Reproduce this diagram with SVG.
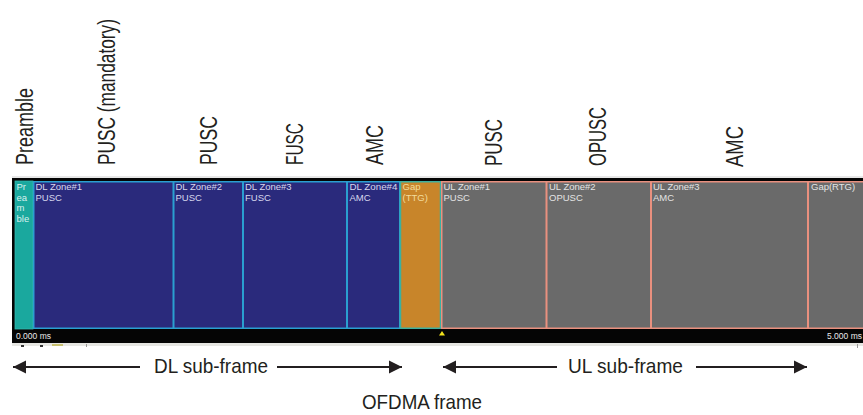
<svg xmlns="http://www.w3.org/2000/svg" width="863" height="415" viewBox="0 0 863 415">
<style>
.lbl{font-family:"Liberation Sans",Arial,sans-serif;font-size:23px;fill:#231f20}
.cap{font-family:"Liberation Sans",Arial,sans-serif;font-size:21px;fill:#231f20}
.zt{font-family:"Liberation Sans",Arial,sans-serif;font-size:9.5px}
.dl{fill:#2a2a7c;stroke:#2a9fd0;stroke-width:1.5}
.ul{fill:#6a6a6a;stroke:#e9907f;stroke-width:1.5}
.dlt{fill:#d8d8ee}
.ult{fill:#e4e4e4}
.tick{font-family:"Liberation Sans",Arial,sans-serif;font-size:8.5px;fill:#e8e8e8}
.arr{stroke:#231f20;stroke-width:1.8;fill:none}
</style>
<defs>
<marker id="ah" markerUnits="userSpaceOnUse" markerWidth="14" markerHeight="14" refX="13" refY="7" orient="auto">
<path d="M0,0.5 L13,7 L0,13.5 Z" fill="#231f20"/>
</marker>
</defs>
<rect width="863" height="415" fill="#ffffff"/>
<g id="top-labels">
<text class="lbl" transform="translate(33,165) rotate(-90)" textLength="77" lengthAdjust="spacingAndGlyphs">Preamble</text>
<text class="lbl" transform="translate(115,165) rotate(-90)" textLength="146" lengthAdjust="spacingAndGlyphs">PUSC (mandatory)</text>
<text class="lbl" transform="translate(217,165) rotate(-90)" textLength="49" lengthAdjust="spacingAndGlyphs">PUSC</text>
<text class="lbl" transform="translate(303,165) rotate(-90)" textLength="42" lengthAdjust="spacingAndGlyphs">FUSC</text>
<text class="lbl" transform="translate(383,165) rotate(-90)" textLength="40" lengthAdjust="spacingAndGlyphs">AMC</text>
<text class="lbl" transform="translate(502,166) rotate(-90)" textLength="47" lengthAdjust="spacingAndGlyphs">PUSC</text>
<text class="lbl" transform="translate(606,166) rotate(-90)" textLength="59" lengthAdjust="spacingAndGlyphs">OPUSC</text>
<text class="lbl" transform="translate(743,167) rotate(-90)" textLength="41" lengthAdjust="spacingAndGlyphs">AMC</text>
</g>
<g id="frame">
<line x1="12" y1="177" x2="863" y2="177" stroke="#d0d0d0" stroke-width="1"/>
<rect x="12" y="178" width="851" height="165" fill="#050505"/>
<rect x="12" y="343" width="851" height="3" fill="#e6e6e2"/>
<rect x="21" y="345" width="3" height="2" fill="#333"/>
<rect x="40" y="345" width="3" height="2" fill="#333"/>
<rect x="52" y="344" width="11" height="2" fill="#c8c070"/>
<rect x="86" y="344" width="1" height="3" fill="#999"/>
<rect x="857" y="344" width="1" height="4" fill="#999"/>
<text class="tick" x="16" y="338.5">0.000 ms</text>
<text class="tick" x="827" y="338.5">5.000 ms</text>
<polygon points="442,331 439,335.5 445,335.5" fill="#f2e21c"/>
</g>
<g id="preamble">
<rect x="15" y="181" width="18" height="148" fill="#1aa89e" stroke="#35b8b0" stroke-width="0.8"/>
<text class="zt" fill="#d8f0ee" x="16.5" y="190">Pr</text>
<text class="zt" fill="#d8f0ee" x="16.5" y="200.5">ea</text>
<text class="zt" fill="#d8f0ee" x="16.5" y="211">m</text>
<text class="zt" fill="#d8f0ee" x="16.5" y="221.5">ble</text>
</g>
<g id="dl-zone1">
<rect class="dl" x="33.75" y="181.75" width="139.5" height="146.5"/>
<text class="zt dlt" x="35.5" y="190">DL Zone#1</text>
<text class="zt dlt" x="35.5" y="200.5">PUSC</text>
</g>
<g id="dl-zone2">
<rect class="dl" x="173.75" y="181.75" width="69" height="146.5"/>
<text class="zt dlt" x="175.5" y="190">DL Zone#2</text>
<text class="zt dlt" x="175.5" y="200.5">PUSC</text>
</g>
<g id="dl-zone3">
<rect class="dl" x="243.25" y="181.75" width="103.5" height="146.5"/>
<text class="zt dlt" x="245" y="190">DL Zone#3</text>
<text class="zt dlt" x="245" y="200.5">FUSC</text>
</g>
<g id="dl-zone4">
<rect class="dl" x="347.25" y="181.75" width="52.5" height="146.5"/>
<text class="zt dlt" x="349.5" y="190" textLength="48" lengthAdjust="spacingAndGlyphs">DL Zone#4</text>
<text class="zt dlt" x="349.5" y="200.5">AMC</text>
</g>
<g id="gap-ttg">
<rect x="400.5" y="181.75" width="40" height="146.5" fill="#c8852a" stroke="#3cb0a0" stroke-width="1.5"/>
<text class="zt" fill="#f2dc9c" x="402.5" y="190">Gap</text>
<text class="zt" fill="#f2dc9c" x="402.5" y="200.5">(TTG)</text>
</g>
<g id="ul-zone1">
<rect class="ul" x="441.75" y="181.75" width="104.5" height="146.5"/>
<text class="zt ult" x="443.5" y="190">UL Zone#1</text>
<text class="zt ult" x="443.5" y="200.5">PUSC</text>
</g>
<g id="ul-zone2">
<rect class="ul" x="546.75" y="181.75" width="104" height="146.5"/>
<text class="zt ult" x="549" y="190">UL Zone#2</text>
<text class="zt ult" x="549" y="200.5">OPUSC</text>
</g>
<g id="ul-zone3">
<rect class="ul" x="651.25" y="181.75" width="156.5" height="146.5"/>
<text class="zt ult" x="653" y="190">UL Zone#3</text>
<text class="zt ult" x="653" y="200.5">AMC</text>
</g>
<g id="gap-rtg">
<rect class="ul" x="808.25" y="181.75" width="60" height="146.5"/>
<text class="zt ult" x="811" y="190">Gap(RTG)</text>
</g>
<g id="connectors">
<line class="arr" x1="140" y1="367" x2="13" y2="367" marker-end="url(#ah)"/>
<line class="arr" x1="277" y1="367" x2="402" y2="367" marker-end="url(#ah)"/>
<line class="arr" x1="557" y1="367" x2="443" y2="367" marker-end="url(#ah)"/>
<line class="arr" x1="696" y1="367" x2="807" y2="367" marker-end="url(#ah)"/>
</g>
<g id="bottom-labels">
<text class="cap" x="154" y="373" textLength="114" lengthAdjust="spacingAndGlyphs">DL sub-frame</text>
<text class="cap" x="568" y="373" textLength="115" lengthAdjust="spacingAndGlyphs">UL sub-frame</text>
<text class="cap" x="362" y="409" textLength="120" lengthAdjust="spacingAndGlyphs">OFDMA frame</text>
</g>
</svg>
